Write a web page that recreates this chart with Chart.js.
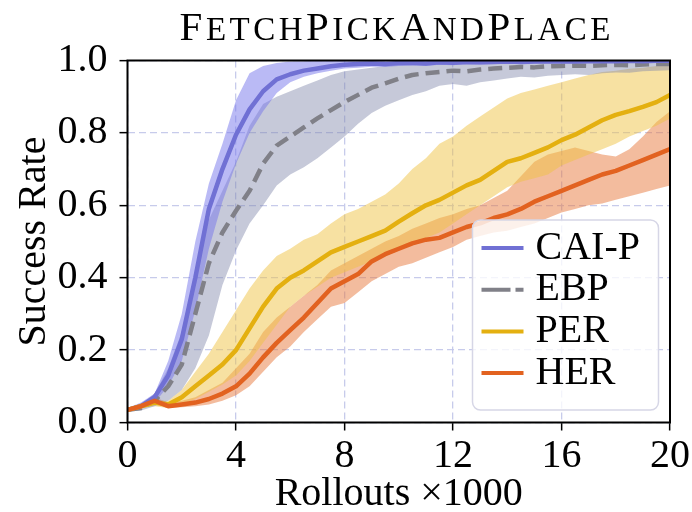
<!DOCTYPE html>
<html>
<head>
<meta charset="utf-8">
<script src="https://cdn.jsdelivr.net/npm/chart.js@4.4.0/dist/chart.umd.min.js"></script>
<style>
  html, body { margin: 0; padding: 0; background: #fff; }
  #wrap { width: 692px; height: 512px; }
</style>
</head>
<body>
<div id="wrap"><canvas id="myChart" width="692" height="512"></canvas></div>
<script>
// rollouts (x1000) and success rate curves, mean with lower/upper band
const rollouts = [0, 0.5, 1, 1.5, 2, 2.5, 3, 3.5, 4, 4.5, 5, 5.5, 6, 6.5, 7, 7.5, 8, 8.5, 9, 9.5,
  10, 10.5, 11, 11.5, 12, 12.5, 13, 13.5, 14, 14.5, 15, 15.5, 16, 16.5, 17, 17.5, 18, 18.5, 19, 19.5, 20];

const caipMean = [0.035, 0.045, 0.07, 0.13, 0.23, 0.40, 0.59, 0.70, 0.795, 0.865, 0.915, 0.948, 0.962, 0.972, 0.978, 0.984, 0.988, 0.99, 0.992, 0.99,
  0.993, 0.994, 0.992, 0.995, 0.994, 0.996, 0.995, 0.996, 0.997, 0.996, 0.997, 0.997, 0.998, 0.997, 0.998, 0.998, 0.998, 0.999, 0.998, 0.999, 0.999];
const caipUpper = [0.04, 0.055, 0.08, 0.17, 0.30, 0.50, 0.66, 0.77, 0.89, 0.965, 0.985, 0.993, 0.997, 0.998, 0.999, 1, 1, 1, 1, 1,
  1, 1, 1, 1, 1, 1, 1, 1, 1, 1, 1, 1, 1, 1, 1, 1, 1, 1, 1, 1, 1];
const caipLower = [0.03, 0.038, 0.055, 0.10, 0.17, 0.31, 0.48, 0.61, 0.715, 0.80, 0.86, 0.91, 0.94, 0.955, 0.965, 0.972, 0.978, 0.98, 0.983, 0.982,
  0.985, 0.986, 0.985, 0.988, 0.987, 0.99, 0.989, 0.99, 0.992, 0.991, 0.992, 0.993, 0.994, 0.993, 0.995, 0.995, 0.995, 0.996, 0.995, 0.996, 0.996];

const ebpMean = [0.035, 0.04, 0.06, 0.10, 0.16, 0.30, 0.44, 0.525, 0.585, 0.64, 0.715, 0.765, 0.79, 0.815, 0.84, 0.863, 0.885, 0.905, 0.925, 0.937,
  0.95, 0.96, 0.965, 0.968, 0.972, 0.97, 0.975, 0.978, 0.98, 0.982, 0.981, 0.984, 0.985, 0.986, 0.985, 0.987, 0.988, 0.987, 0.989, 0.99, 0.99];
const ebpUpper = [0.04, 0.05, 0.08, 0.15, 0.25, 0.40, 0.56, 0.64, 0.72, 0.82, 0.88, 0.90, 0.915, 0.93, 0.945, 0.96, 0.97, 0.975, 0.98, 0.985,
  0.99, 0.992, 0.993, 0.994, 0.995, 0.995, 0.996, 0.996, 0.997, 0.997, 0.997, 0.998, 0.998, 0.998, 0.998, 0.999, 0.999, 0.999, 0.999, 0.999, 0.999];
const ebpLower = [0.03, 0.033, 0.045, 0.06, 0.09, 0.15, 0.24, 0.38, 0.475, 0.55, 0.60, 0.655, 0.685, 0.705, 0.73, 0.76, 0.79, 0.825, 0.855, 0.875,
  0.89, 0.905, 0.915, 0.93, 0.935, 0.93, 0.94, 0.945, 0.95, 0.955, 0.953, 0.958, 0.96, 0.962, 0.96, 0.965, 0.967, 0.966, 0.97, 0.972, 0.973];

const perMean = [0.035, 0.045, 0.055, 0.05, 0.07, 0.10, 0.13, 0.16, 0.20, 0.26, 0.32, 0.37, 0.40, 0.42, 0.445, 0.47, 0.485, 0.50, 0.515, 0.53,
  0.555, 0.578, 0.60, 0.615, 0.635, 0.655, 0.67, 0.695, 0.72, 0.73, 0.745, 0.76, 0.78, 0.795, 0.815, 0.835, 0.85, 0.86, 0.872, 0.885, 0.905];
const perUpper = [0.04, 0.05, 0.06, 0.06, 0.09, 0.14, 0.19, 0.25, 0.31, 0.37, 0.42, 0.46, 0.48, 0.505, 0.52, 0.55, 0.575, 0.59, 0.61, 0.63,
  0.66, 0.70, 0.73, 0.77, 0.79, 0.82, 0.845, 0.87, 0.895, 0.91, 0.92, 0.93, 0.94, 0.95, 0.96, 0.968, 0.972, 0.977, 0.98, 0.985, 0.99];
const perLower = [0.03, 0.04, 0.045, 0.04, 0.05, 0.065, 0.085, 0.105, 0.13, 0.17, 0.22, 0.27, 0.32, 0.35, 0.375, 0.40, 0.415, 0.43, 0.445, 0.46,
  0.475, 0.49, 0.51, 0.525, 0.55, 0.575, 0.60, 0.625, 0.65, 0.665, 0.675, 0.685, 0.71, 0.725, 0.74, 0.755, 0.77, 0.79, 0.805, 0.82, 0.84];

const herMean = [0.035, 0.045, 0.06, 0.045, 0.05, 0.055, 0.065, 0.08, 0.10, 0.135, 0.18, 0.22, 0.255, 0.29, 0.33, 0.37, 0.39, 0.41, 0.445, 0.465,
  0.48, 0.495, 0.505, 0.51, 0.525, 0.54, 0.55, 0.565, 0.575, 0.59, 0.61, 0.625, 0.64, 0.655, 0.67, 0.685, 0.695, 0.71, 0.725, 0.74, 0.755];
const herUpper = [0.04, 0.05, 0.07, 0.055, 0.06, 0.07, 0.09, 0.11, 0.15, 0.19, 0.25, 0.29, 0.32, 0.35, 0.38, 0.42, 0.44, 0.46, 0.48, 0.50,
  0.515, 0.535, 0.55, 0.565, 0.575, 0.59, 0.60, 0.62, 0.64, 0.68, 0.72, 0.74, 0.75, 0.76, 0.75, 0.74, 0.735, 0.755, 0.79, 0.83, 0.86];
const herLower = [0.03, 0.04, 0.05, 0.04, 0.042, 0.045, 0.05, 0.06, 0.075, 0.10, 0.14, 0.18, 0.21, 0.25, 0.285, 0.32, 0.33, 0.36, 0.39, 0.41,
  0.43, 0.44, 0.455, 0.47, 0.485, 0.505, 0.515, 0.525, 0.53, 0.54, 0.55, 0.565, 0.58, 0.59, 0.60, 0.605, 0.615, 0.625, 0.635, 0.645, 0.655];

const xTicks = [0, 4, 8, 12, 16, 20];
const yTicks = [0, 0.2, 0.4, 0.6, 0.8, 1.0];
const titleWords = ['Fetch', 'Pick', 'And', 'Place'];

const serif = '"Liberation Serif", "DejaVu Serif", serif';

function pts(ys) {
  return ys.map(function (y, i) { return { x: rollouts[i], y: y }; });
}

// lower edge, upper edge filled down to it, then the mean line
function series(name, mean, lower, upper, line, band, dash, keyDash, order) {
  return [
    { data: pts(lower), borderWidth: 0, borderColor: 'transparent', pointRadius: 0, fill: false },
    { data: pts(upper), borderWidth: 0, borderColor: 'transparent', pointRadius: 0, fill: '-1', backgroundColor: band },
    { label: name, data: pts(mean), borderColor: line, borderWidth: 4.5, borderDash: dash, keyDash: keyDash,
      pointRadius: 0, fill: false, order: order, borderJoinStyle: 'round' }
  ];
}

const datasets = [].concat(
  series('CAI-P', caipMean, caipLower, caipUpper, 'rgb(112,112,212)', 'rgba(118,118,236,0.5)', [], [], -2),
  series('EBP', ebpMean, ebpLower, ebpUpper, 'rgb(128,128,136)', 'rgba(128,136,170,0.45)', [14, 7], [29, 5], -1),
  series('PER', perMean, perLower, perUpper, 'rgb(228,176,16)', 'rgba(240,196,70,0.5)', [], [], -3),
  series('HER', herMean, herLower, herUpper, 'rgb(226,98,32)', 'rgba(232,122,62,0.5)', [], [], -4)
);

// black frame, boxed legend on top of the curves
const decor = {
  id: 'decor',
  afterDatasetsDraw: function (chart) {
    const ctx = chart.ctx;
    const a = chart.chartArea;
    ctx.save();
    ctx.strokeStyle = '#000';
    ctx.lineWidth = 2;
    ctx.strokeRect(a.left, a.top, a.right - a.left, a.bottom - a.top);

    const items = chart.data.datasets.filter(function (d) { return d.label; });
    const bw = 186, bh = 190;
    const bx = a.right - 11.5 - bw, by = a.bottom - 12.5 - bh;
    ctx.beginPath();
    ctx.roundRect(bx, by, bw, bh, 8);
    ctx.fillStyle = 'rgba(255,255,255,0.8)';
    ctx.fill();
    ctx.strokeStyle = 'rgb(214,214,230)';
    ctx.lineWidth = 1.5;
    ctx.stroke();

    ctx.font = '40px ' + serif;
    ctx.textBaseline = 'middle';
    ctx.textAlign = 'left';
    items.forEach(function (d, i) {
      const y = by + 28 + i * 41.7;
      ctx.beginPath();
      ctx.setLineDash(d.keyDash || []);
      ctx.strokeStyle = d.borderColor;
      ctx.lineWidth = 4;
      ctx.moveTo(bx + 9, y);
      ctx.lineTo(bx + 51, y);
      ctx.stroke();
      ctx.setLineDash([]);
      ctx.fillStyle = '#000';
      ctx.fillText(d.label, bx + 63, y);
    });
    ctx.restore();
  },
  afterDraw: function (chart) {
    // small-caps title above the plot
    const ctx = chart.ctx;
    const a = chart.chartArea;
    const big = '41px ' + serif, small = '33px ' + serif;
    ctx.save();
    if ('letterSpacing' in ctx) ctx.letterSpacing = '3.5px';
    const parts = [];
    titleWords.forEach(function (w) {
      parts.push([w.charAt(0), big]);
      parts.push([w.slice(1).toUpperCase(), small]);
    });
    let total = 0;
    parts.forEach(function (p) { ctx.font = p[1]; p.push(ctx.measureText(p[0]).width); total += p[2]; });
    let x = (a.left + a.right) / 2 - total / 2 - 2;
    ctx.fillStyle = '#000';
    ctx.textBaseline = 'alphabetic';
    ctx.textAlign = 'left';
    parts.forEach(function (p) {
      ctx.font = p[1];
      ctx.fillText(p[0], x, 40);
      x += p[2];
    });
    ctx.restore();
  }
};

const gridColor = 'rgba(196,200,234,0.95)';

const ctx = document.getElementById('myChart').getContext('2d');
const myChart = new Chart(ctx, {
  type: 'line',
  data: { datasets: datasets },
  options: {
    responsive: false,
    animation: false,
    layout: { padding: { top: 60.5, right: 20.5, left: 0, bottom: 0 } },
    elements: { line: { tension: 0 } },
    plugins: {
      legend: { display: false },
      title: { display: false },
      tooltip: { enabled: false },
      filler: { drawTime: 'beforeDatasetsDraw' }
    },
    scales: {
      x: {
        type: 'linear',
        min: 0,
        max: 20,
        afterFit: function (s) { s.height = 89.5; },
        afterBuildTicks: function (s) { s.ticks = xTicks.map(function (v) { return { value: v }; }); },
        grid: { color: gridColor, lineWidth: 1.3, tickColor: '#000', tickLength: 8, tickWidth: 1.5 },
        border: { display: false, dash: [7, 4] },
        ticks: { color: '#000', font: { family: serif, size: 40, lineHeight: 1.2 }, padding: 2, maxRotation: 0, autoSkip: false },
        title: { display: true, text: 'Rollouts ×1000', color: '#000', font: { family: serif, size: 40, lineHeight: 0.8 }, padding: { top: 0, bottom: 1.5 } }
      },
      y: {
        min: 0,
        max: 1,
        afterFit: function (s) { s.width = 127.5; },
        afterBuildTicks: function (s) { s.ticks = yTicks.map(function (v) { return { value: v }; }); },
        grid: { color: gridColor, lineWidth: 1.3, tickColor: '#000', tickLength: 8, tickWidth: 1.5 },
        border: { display: false, dash: [7, 4] },
        ticks: { color: '#000', font: { family: serif, size: 40 }, padding: 12, callback: function (v) { return v.toFixed(1); } },
        title: { display: true, text: 'Success Rate', color: '#000', font: { family: serif, size: 40, lineHeight: 1.2 }, padding: { top: 10.5, bottom: 0 } }
      }
    }
  },
  plugins: [decor]
});
</script>
</body>
</html>
